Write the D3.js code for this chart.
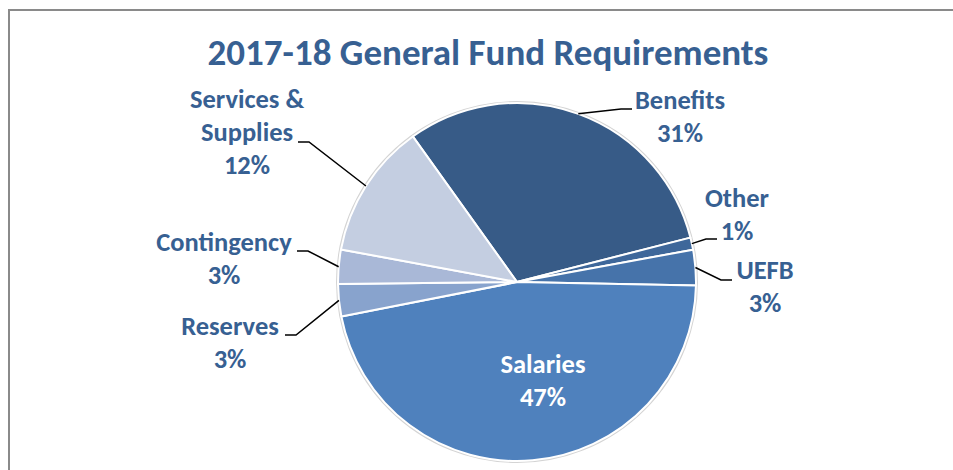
<!DOCTYPE html>
<html>
<head>
<meta charset="utf-8">
<script src="https://cdn.jsdelivr.net/npm/d3@7"></script>
<style>
    body { margin: 0; background: #fff; }
    svg { display: block; }
    text { font-family: Carlito, Calibri, "Open Sans", sans-serif; font-weight: bold; }
</style>
</head>
<body>
<script>
// data, clockwise from the Benefits slice
const categories = ['Benefits', 'Other', 'UEFB', 'Salaries', 'Reserves', 'Contingency', 'Services & Supplies'];
const shares = [30.9, 1.1, 3.2, 46.6, 2.9, 3.1, 12.2];
const labelNames = [['Benefits'], ['Other'], ['UEFB'], ['Salaries'], ['Reserves'], ['Contingency'], ['Services &', 'Supplies']];

const svgValues = {
    width: 953,
    height: 470,
    cx: 517,
    cy: 282,
    radius: 179,
    startDeg: -35.6
}

const sliceColors = ['#375b87', '#3e679a', '#4673aa', '#4f81bd', '#88a3cd', '#a9b8d7', '#c4cee1'];
const labelColor = '#376092';

// where each label sits: text centre x, first baseline y, end of leader, elbow direction
const labelLayout = {
    'Benefits':            {x: 680, y: 109, ax: 632, ay: 109, side: 1},
    'Other':               {x: 737, y: 207, ax: 717, ay: 239, side: 1},
    'UEFB':                {x: 765, y: 279, ax: 732, ay: 280, side: 1},
    'Salaries':            {x: 543, y: 373, inside: true},
    'Reserves':            {x: 230, y: 335, ax: 285, ay: 335, side: -1},
    'Contingency':         {x: 224, y: 251, ax: 297, ay: 251, side: -1},
    'Services & Supplies': {x: 247, y: 108, ax: 298, ay: 142, side: -1}
}
const lineGap = 33;

const svg = d3.select('body')
    .append('svg')
    .attr('width', svgValues.width)
    .attr('height', svgValues.height)

svg // chart frame, runs off the right and bottom
    .append('rect')
    .attr('x', 9)
    .attr('y', 10)
    .attr('width', 1000)
    .attr('height', 1000)
    .attr('fill', 'none')
    .attr('stroke', '#8a8a8a')
    .attr('stroke-width', 2)

svg // title
    .append('text')
    .text('2017-18 General Fund Requirements')
    .attr('text-anchor', 'middle')
    .attr('x', 488)
    .attr('y', 65)
    .attr('fill', labelColor)
    .style('font-size', '37px')

const rows = categories.map((c, i) => ({name: c, value: shares[i], lines: labelNames[i], color: sliceColors[i]}));
const total = d3.sum(shares);
const start = svgValues.startDeg * Math.PI / 180;

const pie = d3.pie()
    .sort(null)
    .value(d => d.value)
    .startAngle(start)
    .endAngle(start + 2 * Math.PI)

const arc = d3.arc()
    .innerRadius(0)
    .outerRadius(svgValues.radius)

const g = svg.append('g')
    .attr('transform', 'translate(' + svgValues.cx + ',' + svgValues.cy + ')')

g.append('circle') // faint shadow edge
    .attr('r', svgValues.radius + 1)
    .attr('fill', 'none')
    .attr('stroke', '#d4d4d4')
    .attr('stroke-width', 2)

const arcs = pie(rows);

g.selectAll('path')
    .data(arcs)
    .enter()
    .append('path')
    .attr('d', arc)
    .attr('fill', d => d.data.color)
    .attr('stroke', '#fff')
    .attr('stroke-width', 2)
    .attr('stroke-linejoin', 'round')

// leader lines
arcs.forEach(function(d){
    const pos = labelLayout[d.data.name];
    if (pos.inside) return;
    const mid = (d.startAngle + d.endAngle) / 2;
    const px = svgValues.cx + svgValues.radius * Math.sin(mid);
    const py = svgValues.cy - svgValues.radius * Math.cos(mid);
    const elbowX = pos.ax - pos.side * 11;
    svg.append('polyline')
        .attr('points', [[px, py], [elbowX, pos.ay], [pos.ax, pos.ay]].map(p => p.join(',')).join(' '))
        .attr('fill', 'none')
        .attr('stroke', '#000')
        .attr('stroke-width', 1.5)
})

// labels
arcs.forEach(function(d){
    const pos = labelLayout[d.data.name];
    const pct = Math.round(d.data.value / total * 100) + '%';
    const lines = d.data.lines.concat([pct]);
    const t = svg.append('text')
        .attr('text-anchor', 'middle')
        .attr('fill', pos.inside ? '#fff' : labelColor)
        .style('font-size', '26.5px')
    lines.forEach(function(l, i){
        t.append('tspan')
            .attr('x', pos.x)
            .attr('y', pos.y + i * lineGap)
            .text(l)
    })
})
</script>
</body>
</html>
